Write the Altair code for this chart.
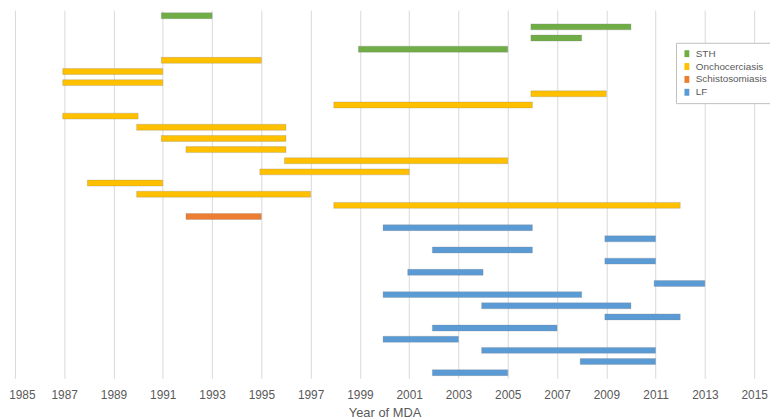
import altair as alt
import pandas as pd

diseases = ["STH", "STH", "STH", "STH",
            "Onchocerciasis", "Onchocerciasis", "Onchocerciasis", "Onchocerciasis",
            "Onchocerciasis", "Onchocerciasis", "Onchocerciasis", "Onchocerciasis",
            "Onchocerciasis", "Onchocerciasis", "Onchocerciasis", "Onchocerciasis",
            "Onchocerciasis", "Onchocerciasis",
            "Schistosomiasis",
            "LF", "LF", "LF", "LF", "LF", "LF", "LF", "LF", "LF", "LF", "LF", "LF", "LF", "LF"]
start_years = [1991, 2006, 2006, 1999,
               1991, 1987, 1987, 2006, 1998, 1987, 1990, 1991, 1992, 1996, 1995, 1988, 1990, 1998,
               1992,
               2000, 2009, 2002, 2009, 2001, 2011, 2000, 2004, 2009, 2002, 2000, 2004, 2008, 2002]
end_years = [1993, 2010, 2008, 2005,
             1995, 1991, 1991, 2009, 2006, 1990, 1996, 1996, 1996, 2005, 2001, 1991, 1997, 2012,
             1995,
             2006, 2011, 2006, 2011, 2004, 2013, 2008, 2010, 2012, 2007, 2003, 2011, 2011, 2005]
tick_years = list(range(1985, 2016, 2))
legend_order = ["STH", "Onchocerciasis", "Schistosomiasis", "LF"]
legend_colors = ["#70AD47", "#FFC000", "#ED7D31", "#5B9BD5"]

df = pd.DataFrame({
    "row": list(range(1, len(diseases) + 1)),
    "disease": diseases,
    "start": start_years,
    "end": end_years,
})

chart = alt.Chart(df).mark_bar(
    size=6, xOffset=-1.5, strokeWidth=0.6, stroke="#7f7f7f", strokeOpacity=0.45
).encode(
    x=alt.X("start:Q",
            scale=alt.Scale(domain=[1985, 2015], nice=False, zero=False),
            axis=alt.Axis(values=tick_years, format="d", grid=True, gridColor="#d9d9d9",
                          gridWidth=1, ticks=False, domain=False, labelFontSize=12,
                          labelFlush=False, labelOverlap=False,
                          labelOffset={"condition": {"test": "datum.value == 1985", "value": 7},
                                       "value": 0},
                          labelColor="#595959", labelPadding=11, labelFont="Liberation Sans",
                          title="Year of MDA", titleFontSize=13, titleFontWeight="normal",
                          titleColor="#595959", titlePadding=7, titleFont="Liberation Sans")),
    x2="end:Q",
    y=alt.Y("row:O", axis=None, scale=alt.Scale(paddingInner=0, paddingOuter=0)),
    color=alt.Color("disease:N",
                    scale=alt.Scale(domain=legend_order, range=legend_colors),
                    sort=legend_order,
                    title=None,
                    legend=alt.Legend(orient="none", legendX=668, legendY=33,
                                      strokeColor="#bfbfbf", fillColor="white", padding=6,
                                      symbolType="M-0.7,-1H0.7V1H-0.7Z", symbolSize=49,
                                      symbolStrokeWidth=0, labelFontSize=10, labelColor="#595959",
                                      labelFont="Liberation Sans", labelOffset=4, rowPadding=3)),
).properties(
    width=747, height=372,
    autosize=alt.AutoSizeParams(type="none"),
    padding={"left": 7, "top": 0, "right": 16, "bottom": 39},
).configure_view(stroke=None)

chart.save("out.html", embed_options={"renderer": "svg", "actions": False})
